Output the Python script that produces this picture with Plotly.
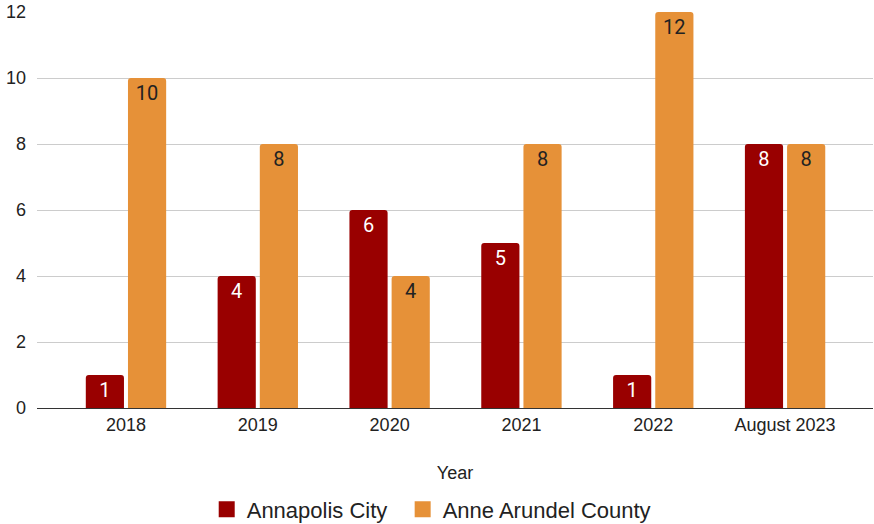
import plotly.graph_objects as go

categories = ["2018", "2019", "2020", "2021", "2022", "August 2023"]
annapolis_city = [1, 4, 6, 5, 1, 8]
anne_arundel_county = [10, 8, 4, 8, 12, 8]
y_ticks = [0, 2, 4, 6, 8, 10, 12]

RED = "#990000"
ORANGE = "#E69138"
AXFONT = "Liberation Sans, Arial, sans-serif"
LBLFONT = "Roboto"

fig = go.Figure()
series = [("Annapolis City", annapolis_city, RED, "white", "legend"),
          ("Anne Arundel County", anne_arundel_county, ORANGE, "#222222", "legend2")]
for name, vals, color, tcolor, leg in series:
    fig.add_trace(go.Bar(
        name=name, x=categories, y=vals, legendgroup=name, showlegend=False,
        marker=dict(color=color, line=dict(width=0)),
        text=vals, textposition="inside", insidetextanchor="end",
        textfont=dict(color=tcolor, size=20, family=LBLFONT),
        textangle=0,
    ))
for name, vals, color, tcolor, leg in series:
    fig.add_trace(go.Scatter(
        name=name, x=[None], y=[None], mode="markers", legendgroup=name, legend=leg,
        marker=dict(symbol="square", size=18, color=color),
        hoverinfo="skip",
    ))

legend_common = dict(orientation="h", xanchor="left", y=-0.256, yanchor="middle",
                     font=dict(size=22, color="#222222"), bgcolor="rgba(0,0,0,0)")

fig.update_layout(
    width=874, height=524,
    margin=dict(l=37, r=1, t=12, b=116, autoexpand=False),
    paper_bgcolor="white", plot_bgcolor="white",
    barmode="group", bargap=0.36, bargroupgap=0.095,
    barcornerradius=3,
    font=dict(family=AXFONT, color="#222222"),
    uniformtext=dict(minsize=10, mode="show"),
    showlegend=True,
    legend=dict(x=0.203, **legend_common),
    legend2=dict(x=0.4374, **legend_common),
    xaxis=dict(
        range=[-0.675, 5.667], showgrid=False,
        showline=True, linecolor="#333333", linewidth=1,
        tickfont=dict(size=18, color="#222222"), ticks="",
        title=dict(text="Year", font=dict(size=18, color="#222222"), standoff=32),
        fixedrange=True,
    ),
    yaxis=dict(
        range=[0, 12], tickvals=y_ticks, showgrid=True, gridcolor="#cccccc", gridwidth=1,
        zeroline=False, tickfont=dict(size=18, color="#222222"), ticks="",
        ticklabelstandoff=10, fixedrange=True,
    ),
)

fig.write_html("out.html")
